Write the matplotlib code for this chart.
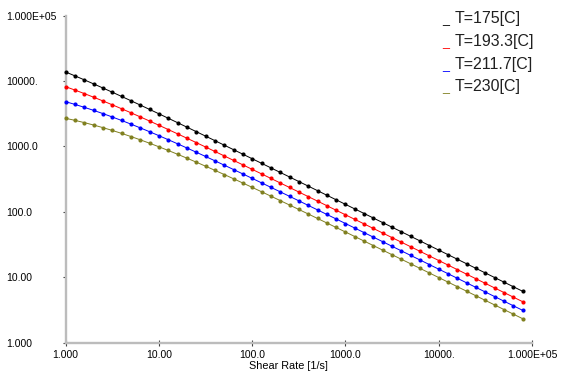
# Viscosity vs shear rate at four melt temperatures (log-log)
import matplotlib
matplotlib.use("Agg")
import matplotlib.pyplot as plt

plt.rcParams['font.family'] = ['Liberation Sans', 'DejaVu Sans']

# shear rate [1/s], 10 points per decade
shear_rate = [1.000, 1.259, 1.585, 1.995, 2.512, 3.162, 3.981, 5.012, 6.310, 7.943,
              10.00, 12.59, 15.85, 19.95, 25.12, 31.62, 39.81, 50.12, 63.10, 79.43,
              100.0, 125.9, 158.5, 199.5, 251.2, 316.2, 398.1, 501.2, 631.0, 794.3,
              1000, 1259, 1585, 1995, 2512, 3162, 3981, 5012, 6310, 7943,
              10000, 12589, 15849, 19953, 25119, 31623, 39811, 50119, 63096, 79433]

# viscosity
visc_175 = [13770, 12010, 10444, 9056, 7832, 6759, 5822, 5007, 4299, 3687,
            3159, 2703.5, 2312, 1975.9, 1687.6, 1440.7, 1229.3, 1048.6, 894.1, 762.2,
            649.6, 553.5, 471.6, 401.7, 342.2, 291.4, 248.2, 211.3, 179.9, 153.2,
            130.4, 111.0, 94.52, 80.46, 68.49, 58.31, 49.63, 42.25, 35.96, 30.61,
            26.05, 22.18, 18.88, 16.07, 13.68, 11.64, 9.907, 8.433, 7.177, 6.109]
visc_193 = [8204, 7287, 6441, 5668, 4968, 4338, 3776, 3277, 2836, 2449,
            2111, 1816, 1560, 1338.8, 1147.3, 982.3, 840.2, 718.2, 613.5, 523.8,
            447.1, 381.4, 325.2, 277.3, 236.3, 201.4, 171.6, 146.2, 124.5, 106.0,
            90.31, 76.90, 65.48, 55.75, 47.46, 40.41, 34.40, 29.28, 24.93, 21.22,
            18.06, 15.38, 13.09, 11.14, 9.482, 8.071, 6.870, 5.848, 4.977, 4.236]
visc_212 = [4841, 4398, 3972, 3565, 3183, 2826, 2498, 2198, 1925.8, 1681.4,
            1463.2, 1269.7, 1098.9, 948.9, 817.8, 703.6, 604.4, 518.5, 444.3, 380.4,
            325.4, 278.1, 237.6, 202.8, 173.1, 147.7, 125.9, 107.4, 91.51, 77.98,
            66.44, 56.60, 48.21, 41.06, 34.97, 29.77, 25.35, 21.58, 18.38, 15.64,
            13.32, 11.34, 9.651, 8.216, 6.994, 5.953, 5.067, 4.313, 3.671, 3.125]
visc_230 = [2698, 2509, 2318, 2128, 1941, 1759.7, 1585.3, 1420.1, 1265.2, 1121.4,
            989.3, 869.1, 760.5, 663.1, 576.4, 499.7, 432.1, 372.8, 321.1, 276.1,
            237.0, 203.3, 174.1, 149.0, 127.4, 108.9, 93.00, 79.39, 67.74, 57.78,
            49.27, 42.00, 35.79, 30.50, 25.98, 22.13, 18.85, 16.06, 13.67, 11.64,
            9.913, 8.440, 7.185, 6.117, 5.207, 4.433, 3.774, 3.212, 2.734, 2.327]

series_labels = ['T=175[C]', 'T=193.3[C]', 'T=211.7[C]', 'T=230[C]']
series_colors = ['#000000', '#ff0000', '#0000ff', '#808020']

ticks = [1, 10, 100, 1000, 10000, 100000]
tick_labels = ['1.000', '10.00', '100.0', '1000.0', '10000.', '1.000E+05']

W, H = 564, 373
fig = plt.figure(figsize=(W / 100, H / 100), dpi=100)
x0, x1, ytop, ybot = 65.7, 532.0, 15.7, 342.7
ax = fig.add_axes([x0 / W, 1 - ybot / H, (x1 - x0) / W, (ybot - ytop) / H])

for ys, c in zip([visc_175, visc_193, visc_212, visc_230], series_colors):
    ax.plot(shear_rate, ys, color=c, lw=0.7, marker='o', ms=3, mec=c,
            mew=0, clip_on=False, zorder=5)

ax.set_xscale('log')
ax.set_yscale('log')
ax.set_xlim(1, 1e5)
ax.set_ylim(1, 1e5)
ax.minorticks_off()
ax.set_xticks(ticks)
ax.set_xticklabels(tick_labels)
ax.set_yticks(ticks)
ax.set_yticklabels(tick_labels)

for s in ['top', 'right']:
    ax.spines[s].set_visible(False)
for s in ['left', 'bottom']:
    ax.spines[s].set_color('#bcbcbc')
    ax.spines[s].set_linewidth(1.7)

ax.tick_params(axis='x', direction='inout', length=4, width=0.8, color='#404040',
               labelsize=7.5, pad=3)
ax.tick_params(axis='y', direction='out', length=2.5, width=0.8, color='#404040',
               labelsize=7.5, pad=40)
for lab in ax.get_yticklabels():
    lab.set_horizontalalignment('left')

ax.set_xlabel('Shear Rate [1/s]', fontsize=7.8)
ax.xaxis.set_label_coords((288 - x0) / (x1 - x0), -0.056)

# legend drawn as text rows in the top right corner
for i, (lab, c) in enumerate(zip(series_labels, series_colors)):
    yb = 1 - (23.5 + i * 22.6) / H
    fig.text(442 / W, yb, '_', color=c, fontsize=9, va='baseline')
    fig.text(455 / W, yb, lab, color='#202020', fontsize=11.5, va='baseline')

fig.savefig('out.png', dpi=100)
